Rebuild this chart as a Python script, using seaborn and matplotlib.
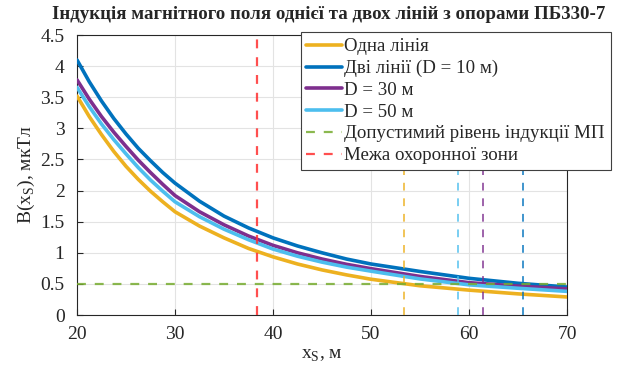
import numpy as np
import pandas as pd
import matplotlib

matplotlib.use("Agg")
import matplotlib.pyplot as plt
import seaborn as sns
from matplotlib.ticker import FixedLocator, FixedFormatter

# ── data ────────────────────────────────────────────────────────────────────
x_s = [20, 21.25, 22.5, 23.75, 25, 26.25, 27.5, 28.75, 30, 32.5, 35, 37.5,
       40, 42.5, 45, 47.5, 50, 55, 60, 65, 70]

b_one = [3.52, 3.19, 2.90, 2.63, 2.39, 2.18, 1.99, 1.82, 1.66, 1.43, 1.24, 1.07,
         0.935, 0.82, 0.725, 0.645, 0.575, 0.47, 0.40, 0.34, 0.29]
b_d10 = [4.10, 3.75, 3.44, 3.16, 2.91, 2.68, 2.48, 2.29, 2.12, 1.83, 1.59, 1.40,
         1.24, 1.11, 1.00, 0.90, 0.82, 0.70, 0.59, 0.51, 0.45]
b_d30 = [3.78, 3.47, 3.19, 2.94, 2.71, 2.49, 2.29, 2.10, 1.92, 1.66, 1.45, 1.27,
         1.12, 1.00, 0.90, 0.815, 0.745, 0.62, 0.52, 0.465, 0.42]
b_d50 = [3.66, 3.35, 3.07, 2.82, 2.59, 2.37, 2.17, 1.99, 1.82, 1.58, 1.38, 1.21,
         1.06, 0.945, 0.85, 0.77, 0.705, 0.58, 0.485, 0.43, 0.38]

series_names = ["Одна лінія", "Дві лінії (D = 10 м)", "D = 30 м", "D = 50 м"]
series_colors = ["#EDB120", "#0072BD", "#7E2F8E", "#4DBEEE"]

b_limit = 0.5            # допустимий рівень
x_zone = 38.35           # межа охоронної зони
x_cross = [53.4, 65.5, 61.4, 58.9]   # where each curve hits 0.5 (same order as series)

x_ticks = [20, 30, 40, 50, 60, 70]
y_ticks = [0, 0.5, 1, 1.5, 2, 2.5, 3, 3.5, 4, 4.5]
y_tick_labels = ["0", "0.5", "1", "1.5", "2", "2.5", "3", "3.5", "4", "4.5"]

df = pd.DataFrame({
    "x": x_s * 4,
    "B": b_one + b_d10 + b_d30 + b_d50,
    "series": sum([[n] * len(x_s) for n in series_names], []),
})

# ── style ──────────────────────────────────────────────────────────────────
sns.set_theme(style="white")
plt.rcParams["font.family"] = ["Liberation Serif", "DejaVu Serif"]
plt.rcParams["mathtext.fontset"] = "custom"
plt.rcParams["mathtext.rm"] = "Liberation Serif"

fig = plt.figure(figsize=(6.18, 3.69), dpi=100)
ax = fig.add_axes([0.1246, 0.1463, 0.7929, 0.7587])

sns.lineplot(data=df, x="x", y="B", hue="series", hue_order=series_names,
             palette=series_colors, linewidth=2.6, ax=ax, legend=False, zorder=3)

for xc, col in zip(x_cross, series_colors):
    ax.axvline(xc, color=col, ls=(0, (4, 4)), lw=1.4, alpha=0.75, zorder=4)

ax.axhline(b_limit, color="#77AC30", ls=(0, (4, 4)), lw=1.6, alpha=0.85, zorder=5)
ax.axvline(x_zone, color="#FF3030", ls=(0, (4, 4)), lw=1.6, alpha=0.85, zorder=5)

# legend handles
handles = [plt.Line2D([], [], color=c, lw=2.6) for c in series_colors]
handles.append(plt.Line2D([], [], color="#77AC30", lw=1.6, ls=(0, (4, 4)), alpha=0.85))
handles.append(plt.Line2D([], [], color="#FF3030", lw=1.6, ls=(0, (4, 4)), alpha=0.85))
labels = series_names + ["Допустимий рівень індукції МП", "Межа охоронної зони"]

leg = fig.legend(handles, labels, loc="upper right", bbox_to_anchor=(0.988, 0.912),
                 fontsize=13.6, frameon=True, fancybox=False, framealpha=1,
                 edgecolor="#404040", handlelength=1.9, handletextpad=0.12,
                 labelspacing=0.24, borderpad=0.3, borderaxespad=0)
leg.get_frame().set_linewidth(0.8)
leg.set_zorder(10)

# axes cosmetics (MATLAB-like)
ax.set_xlim(20, 70)
ax.set_ylim(0, 4.5)
ax.xaxis.set_major_locator(FixedLocator(x_ticks))
ax.yaxis.set_major_locator(FixedLocator(y_ticks))
ax.yaxis.set_major_formatter(FixedFormatter(y_tick_labels))
ax.grid(True, color="#E3E3E3", lw=0.8)
ax.set_axisbelow(True)
ax.tick_params(direction="in", length=4, width=0.8, colors="#262626",
               labelsize=14, top=False, right=False, left=True, bottom=True)
ax.tick_params(axis="x", pad=8)
ax.tick_params(axis="y", pad=9)
for sp in ax.spines.values():
    sp.set_color("#262626")
    sp.set_linewidth(0.8)

ax.set_xlabel(r"x$_\mathregular{S}$, м", fontsize=14, labelpad=3)
ax.set_ylabel(r"B(x$_\mathregular{S}$), мкТл", fontsize=14, labelpad=2)
fig.text(0.532, 0.962, "Індукція магнітного поля однієї та двох ліній з опорами ПБ330-7",
         ha="center", va="center", fontsize=13.6, fontweight="bold")

fig.savefig("out.png", dpi=100)
